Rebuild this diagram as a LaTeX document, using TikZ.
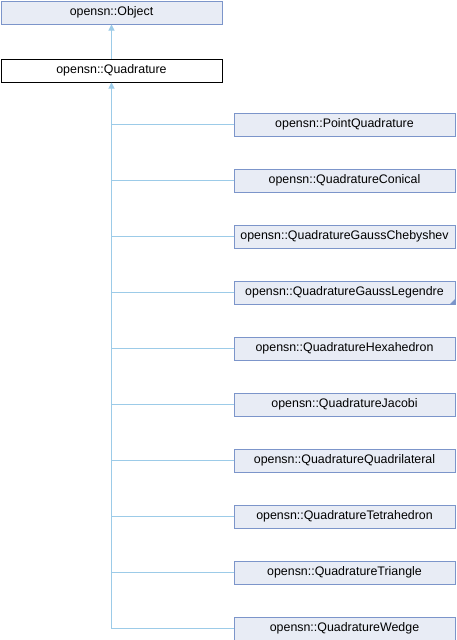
\documentclass[tikz,border=0pt]{standalone}
\usepackage{fontspec}
\setmainfont{Liberation Sans}
\usetikzlibrary{arrows.meta}
\definecolor{boxfill}{HTML}{E8ECF5}
\definecolor{boxdraw}{HTML}{7C95CA}
\definecolor{edgecol}{HTML}{9CCBE8}
\tikzset{
  cls/.style={draw=boxdraw, fill=boxfill, line width=1pt, minimum width=221pt, minimum height=23pt, inner sep=0pt, font=\fontsize{12.4}{14}\selectfont, anchor=north west},
  cur/.style={cls, draw=black, fill=white},
  edge/.style={draw=edgecol, line width=1pt},
  inh/.style={edge, {Triangle[length=6pt,width=6pt,fill=edgecol]}-},
}
\begin{document}
\begin{tikzpicture}[x=1pt,y=-1pt]
\useasboundingbox (0,0) rectangle (456,640);
\node[cls] (obj) at (0.5,0.5) {opensn::Object};
\node[cur] (quad) at (0.5,58.5) {opensn::Quadrature};
\foreach \n/\t [count=\i from 0] in {c0/PointQuadrature,c1/QuadratureConical,c2/QuadratureGaussChebyshev,c3/QuadratureGaussLegendre,c4/QuadratureHexahedron,c5/QuadratureJacobi,c6/QuadratureQuadrilateral,c7/QuadratureTetrahedron,c8/QuadratureTriangle,c9/QuadratureWedge}{
  \node[cls] (\n) at (233.5,{112.5+56*\i}) {opensn::\t};
}
\fill[boxdraw] (c3.south east) -- ++(-6,0) -- ++(6,-6) -- cycle;
\draw[inh] (obj.south) -- (quad.north);
\draw[inh] (quad.south) -- (quad.south |- c9.west) -- (c9.west);
\foreach \n in {c0,c1,c2,c3,c4,c5,c6,c7,c8}{
  \draw[edge] (quad.south |- \n.west) -- (\n.west);
}
\end{tikzpicture}
\end{document}
